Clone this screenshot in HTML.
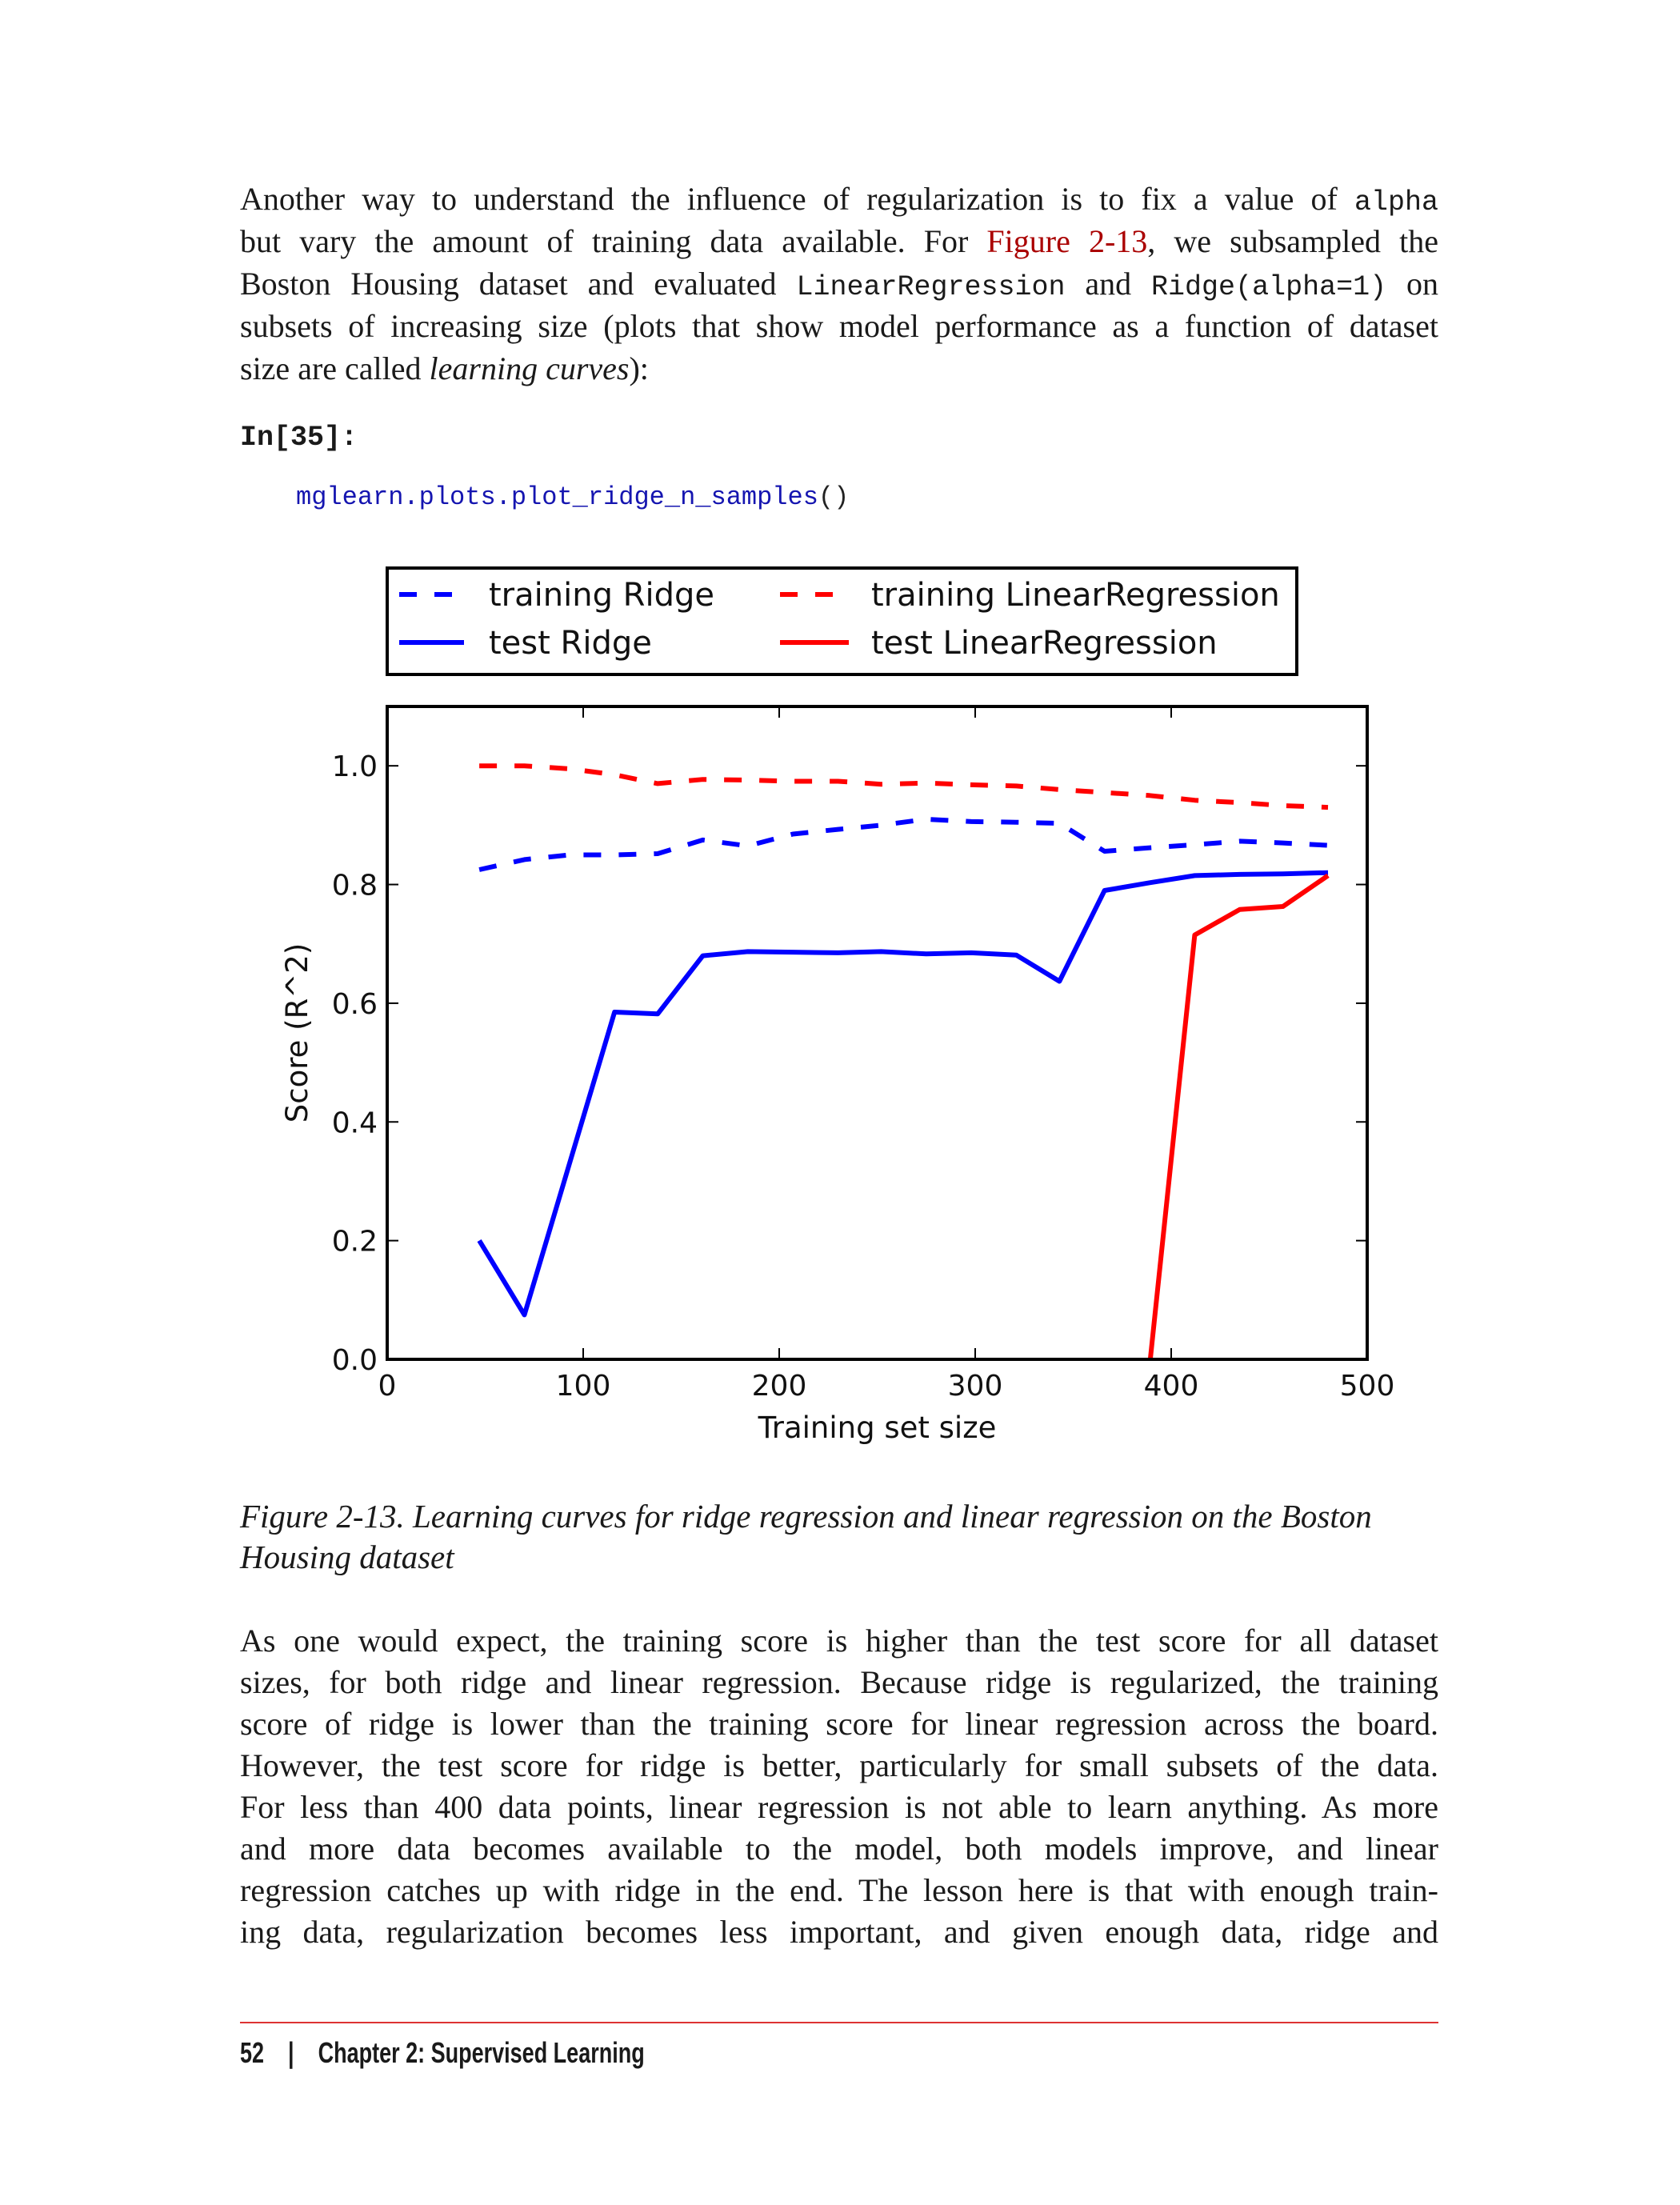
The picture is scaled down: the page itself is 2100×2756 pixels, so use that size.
<!DOCTYPE html>
<html><head><meta charset="utf-8">
<style>
html,body{margin:0;padding:0;background:#fff;overflow:hidden;}
body{width:2100px;height:2756px;position:relative;overflow:hidden;font-family:"Liberation Serif",serif;color:#1a1a1a;}
.ln{position:absolute;left:300px;width:1498px;font-size:40px;line-height:52px;white-space:nowrap;}
.j{text-align:justify;text-align-last:justify;white-space:normal;}
.m{font-family:"Liberation Mono",monospace;font-size:35px;}
.red{color:#a00;}
</style></head>
<body>
<div>
<div class="ln j" style="top:223px">Another way to understand the influence of regularization is to fix a value of <span class="m">alpha</span></div>
<div class="ln j" style="top:276px">but vary the amount of training data available. For <span class="red">Figure 2-13</span>, we subsampled the</div>
<div class="ln j" style="top:329px">Boston Housing dataset and evaluated <span class="m">LinearRegression</span> and <span class="m">Ridge(alpha=1)</span> on</div>
<div class="ln j" style="top:382px">subsets of increasing size (plots that show model performance as a function of dataset</div>
<div class="ln" style="top:435px">size are called <i>learning curves</i>):</div>
</div>
<div style="position:absolute;left:300px;top:527px;font-family:'Liberation Mono',monospace;font-weight:bold;font-size:35px;">In[35]:</div>
<div style="position:absolute;left:370px;top:603px;font-family:'Liberation Mono',monospace;font-size:32px;color:#1515b0;">mglearn.plots.plot_ridge_n_samples<span style="color:#222">()</span></div>

<svg id="chart" style="position:absolute;left:0;top:0" width="2100" height="1850" font-family="DejaVu Sans, sans-serif"></svg>

<div>
<div class="ln" style="top:1869px;font-style:italic;font-size:41px">Figure 2-13. Learning curves for ridge regression and linear regression on the Boston</div>
<div class="ln" style="top:1920px;font-style:italic;font-size:41px">Housing dataset</div>
</div>
<div>
<div class="ln j" style="top:2025px">As one would expect, the training score is higher than the test score for all dataset</div>
<div class="ln j" style="top:2077px">sizes, for both ridge and linear regression. Because ridge is regularized, the training</div>
<div class="ln j" style="top:2129px">score of ridge is lower than the training score for linear regression across the board.</div>
<div class="ln j" style="top:2181px">However, the test score for ridge is better, particularly for small subsets of the data.</div>
<div class="ln j" style="top:2233px">For less than 400 data points, linear regression is not able to learn anything. As more</div>
<div class="ln j" style="top:2285px">and more data becomes available to the model, both models improve, and linear</div>
<div class="ln j" style="top:2337px">regression catches up with ridge in the end. The lesson here is that with enough train-</div>
<div class="ln j" style="top:2389px">ing data, regularization becomes less important, and given enough data, ridge and</div>
</div>
<div style="position:absolute;left:300px;top:2527px;width:1498px;height:2px;background:#d33;"></div>
<div style="position:absolute;left:300px;top:2545px;font-family:'Liberation Sans',sans-serif;font-weight:bold;font-size:36px;transform:scaleX(0.75);transform-origin:left top;white-space:nowrap;">52&nbsp;&nbsp;&nbsp;&nbsp;|&nbsp;&nbsp;&nbsp;&nbsp;Chapter 2: Supervised Learning</div>

<script>
const sizes = [47,70,93,116,138,161,184,207,230,252,275,298,321,343,366,389,412,435,457,480];
const trainRidge = [0.825,0.842,0.85,0.85,0.852,0.875,0.865,0.885,0.893,0.9,0.91,0.906,0.905,0.903,0.856,0.862,0.867,0.873,0.87,0.866];
const testRidge = [0.2,0.075,0.33,0.585,0.582,0.68,0.687,0.686,0.685,0.687,0.683,0.685,0.681,0.637,0.79,0.803,0.815,0.817,0.818,0.82];
const trainLR = [1.0,1.0,0.995,0.985,0.97,0.977,0.976,0.974,0.974,0.969,0.971,0.968,0.966,0.96,0.955,0.95,0.942,0.938,0.933,0.93];
const testLR = [-30,-25,-20,-15,-12,-10,-9,-8,-7,-6,-5,-4,-3,-2.5,-2,-0.01,0.715,0.758,0.763,0.815];
const xTicks = [0,100,200,300,400,500];
const yTicks = [0.0,0.2,0.4,0.6,0.8,1.0];
const yTickLabels = ["0.0","0.2","0.4","0.6","0.8","1.0"];

const L=484,R=1709,T=883,B=1699, XMAX=500, YMAX=1.1;
const sx=v=>L+(v/XMAX)*(R-L);
const sy=v=>B-(v/YMAX)*(B-T);
const svg=document.getElementById('chart');
const NS='http://www.w3.org/2000/svg';
function mk(tag,attrs){const e=document.createElementNS(NS,tag);for(const k in attrs)e.setAttribute(k,attrs[k]);svg.appendChild(e);return e;}

const defs=mk('defs',{});
const cp=document.createElementNS(NS,'clipPath');cp.setAttribute('id','plotclip');
const cr=document.createElementNS(NS,'rect');cr.setAttribute('x',L);cr.setAttribute('y',T);cr.setAttribute('width',R-L);cr.setAttribute('height',B-T);
cp.appendChild(cr);defs.appendChild(cp);

const series=[
 {d:trainRidge,c:'#0000ff',dash:'22,22',n:'training-ridge-line'},
 {d:testRidge,c:'#0000ff',dash:'',n:'test-ridge-line'},
 {d:trainLR,c:'#ff0000',dash:'22,22',n:'training-linearregression-line'},
 {d:testLR,c:'#ff0000',dash:'',n:'test-linearregression-line'}
];
series.forEach(s=>{
 const pts=sizes.map((x,i)=>sx(x).toFixed(1)+','+sy(s.d[i]).toFixed(1)).join(' ');
 const p=mk('polyline',{points:pts,fill:'none',stroke:s.c,'stroke-width':6,'stroke-dasharray':s.dash,'clip-path':'url(#plotclip)','stroke-linejoin':'round'});
 
 
});

const frame=mk('rect',{x:L,y:T,width:R-L,height:B-T,fill:'none',stroke:'#000','stroke-width':4});



xTicks.forEach(v=>{
 mk('line',{x1:sx(v),x2:sx(v),y1:B,y2:B-14,stroke:'#000','stroke-width':2});
 mk('line',{x1:sx(v),x2:sx(v),y1:T,y2:T+14,stroke:'#000','stroke-width':2});
 const t=mk('text',{x:sx(v),y:B+45,'font-size':36,'text-anchor':'middle',fill:'#111'});
 t.textContent=String(v);
 
 
});
yTicks.forEach((v,i)=>{
 mk('line',{x1:L,x2:L+14,y1:sy(v),y2:sy(v),stroke:'#000','stroke-width':2});
 mk('line',{x1:R,x2:R-14,y1:sy(v),y2:sy(v),stroke:'#000','stroke-width':2});
 const t=mk('text',{x:L-12,y:sy(v)+13,'font-size':36,'text-anchor':'end',fill:'#111'});
 t.textContent=yTickLabels[i];
 
 
});
const xt=mk('text',{x:(L+R)/2,y:1797,'font-size':37,'text-anchor':'middle',fill:'#111'});
xt.textContent='Training set size';


const yt=mk('text',{x:0,y:0,'font-size':37,'text-anchor':'middle',fill:'#111',transform:'translate(384,1291) rotate(-90)'});
yt.textContent='Score (R^2)';



const lg=mk('rect',{x:484,y:710,width:1137,height:133,fill:'#fff',stroke:'#000','stroke-width':4});


const entries=[
 {x1:499,x2:580,tx:611,y:743,c:'#0000ff',dash:'22,22',t:'training Ridge'},
 {x1:499,x2:580,tx:611,y:803,c:'#0000ff',dash:'',t:'test Ridge'},
 {x1:975,x2:1061,tx:1089,y:743,c:'#ff0000',dash:'22,22',t:'training LinearRegression'},
 {x1:975,x2:1061,tx:1089,y:803,c:'#ff0000',dash:'',t:'test LinearRegression'}
];
entries.forEach(e=>{
 const l=mk('line',{x1:e.x1,x2:e.x2,y1:e.y,y2:e.y,stroke:e.c,'stroke-width':6,'stroke-dasharray':e.dash});
 
 
 const t=mk('text',{x:e.tx,y:e.y+14,'font-size':40,fill:'#111'});
 t.textContent=e.t;
 
 
});
</script>
</body></html>
